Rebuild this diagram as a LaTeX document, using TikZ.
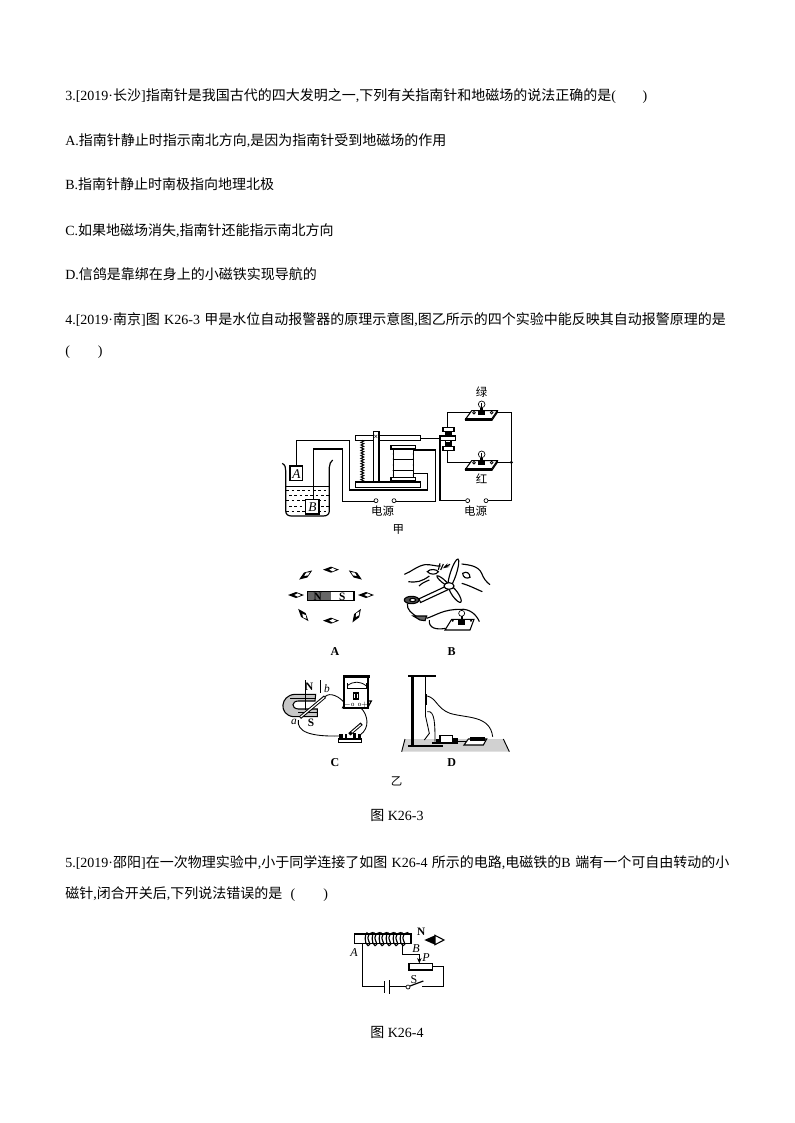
\documentclass[tikz,border=0pt]{standalone}
\usepackage{fontspec}
\setmainfont{Liberation Serif}
\newfontfamily\cjk{Noto Sans CJK SC}
\usetikzlibrary{decorations.pathmorphing,arrows.meta}
\newcommand{\cn}[1]{{\cjk #1}}
\newcommand{\compassneedle}[3]{\begin{scope}[shift={(#1,#2)},rotate=#3]
\fill (-24,0)--(0,-9)--(24,0)--(0,9)--cycle;
\fill[white] (-5,0)--(5,-5)--(15,0)--(5,5)--cycle;
\end{scope}}
\newcommand{\lampunit}[2]{\begin{scope}[shift={(#1,#2)}]
\draw[line width=.8pt,fill=white] (18,-5)--(95,-5)--(78,20)--(0,20)--cycle;
\draw[line width=.8pt,fill=white] (0,20)--(78,20)--(78,25)--(0,25)--cycle;
\draw[line width=.8pt] (78,25)--(95,0)--(95,-5);
\draw[line width=.5pt,fill=white] (48,-24) circle (10);
\draw[line width=.5pt] (48,-28) -- (48,-14);
\fill (38,-6) rectangle (58,8);
\fill (43,-14) rectangle (53,-4);
\draw[line width=.6pt,fill=white] (25,1) circle (4);
\draw[line width=.6pt,fill=white] (78,1) circle (4);
\end{scope}}
\tikzset{
  qtext/.style={anchor=base west,inner sep=0pt,font=\fontsize{10.5}{12}\selectfont},
  wire/.style={line width=.9pt,line join=miter},
  thin wire/.style={line width=.65pt},
  part/.style={line width=.85pt,fill=white},
  figlabel/.style={inner sep=0pt,font=\fontsize{8.6}{10}\selectfont},
  optlabel/.style={inner sep=0pt,font=\bfseries\fontsize{9}{10}\selectfont},
  terminal/.style={circle,draw,fill=white,line width=.5pt,inner sep=0pt,minimum size=3pt},
}
\begin{document}
\begin{tikzpicture}[x=.75pt,y=-.75pt]
\useasboundingbox[fill=white] (0,0) rectangle (794,1123);
% question text
\node[qtext] (q3) at (65,101) {3.[2019·\cn{长沙}]\cn{指南针是我国古代的四大发明之一},\cn{下列有关指南针和地磁场的说法正确的是}(\hspace{1.9em})};
\node[qtext] (qa) at (65,146) {A.\cn{指南针静止时指示南北方向},\cn{是因为指南针受到地磁场的作用}};
\node[qtext] (qb) at (65,190) {B.\cn{指南针静止时南极指向地理北极}};
\node[qtext] (qc) at (65,235) {C.\cn{如果地磁场消失},\cn{指南针还能指示南北方向}};
\node[qtext] (qd) at (65,279) {D.\cn{信鸽是靠绑在身上的小磁铁实现导航的}};
\node[qtext] (q4) at (65,324) {4.[2019·\cn{南京}]\cn{图}\hspace{.32em}K26-3\hspace{.32em}\cn{甲是水位自动报警器的原理示意图},\cn{图乙所示的四个实验中能反映其自动报警原理的是}};
\node[qtext] (q4b) at (65,355) {(\hspace{2em})};
\node[qtext] (q5) at (65,867) {5.[2019·\cn{邵阳}]\cn{在一次物理实验中},\cn{小于同学连接了如图}\hspace{.32em}K26-4\hspace{.32em}\cn{所示的电路},\cn{电磁铁的}B\hspace{.32em}\cn{端有一个可自由转动的小}};
\node[qtext] (q5b) at (65,898) {\cn{磁针},\cn{闭合开关后},\cn{下列说法错误的是}\hspace{.6em}(\hspace{2em})};
\node[qtext,anchor=base] (cap3) at (397,820) {\cn{图} K26-3};
\node[qtext,anchor=base] (cap4) at (397,1037) {\cn{图} K26-4};

% ---------- figure jia
\begin{scope}[shift={(270,380)},x=.25pt,y=-.25pt]
% beaker
\draw[wire] (37,250) .. controls (46,256) and (47,262) .. (47,272) -- (47,392) .. controls (47,404) and (55,408) .. (65,408) -- (160,408) .. controls (172,408) and (178,402) .. (178,392) -- (178,262) .. controls (178,252) and (182,245) .. (188,240);
\draw[wire] (47,320) -- (178,320);
\foreach \y/\o in {330/0,346/8,362/0,378/8,394/0}
  \foreach \x in {52,68,...,168}
    \draw[line width=.5pt] ({\x+\o-3},\y) -- ({\x+\o+5},\y);
% wires
\draw[wire] (79,258) -- (79,181) -- (238,181) -- (238,330) -- (472,330) -- (472,280) -- (432,280);
\draw[wire] (130,358) -- (130,207) -- (218,207) -- (218,365) -- (318,365);
\draw[wire] (372,365) -- (496,365) -- (496,210) -- (432,210);
\draw[wire] (452,175) -- (515,175);
\draw[wire] (510,175) -- (510,362) -- (593,362);
\draw[wire] (648,362) -- (724,362) -- (724,97) -- (660,97);
\draw[wire] (660,247) -- (724,247);
\draw[wire] (600,97) -- (533,97) -- (533,143);
\draw[wire] (600,247) -- (533,247) -- (533,212);
\fill (724,247) circle (5);
% boxes in water
\draw[part] (60,258) rectangle (98,302);
\node[figlabel,font=\itshape\fontsize{10}{10}\selectfont] (la) at (79,281) {A};
\draw[part] (107,358) rectangle (147,402);
\node[figlabel,font=\itshape\fontsize{10}{10}\selectfont] (lb) at (127,381) {B};
% relay
\draw[part] (257,166) rectangle (452,181);
\draw[part] (257,306) rectangle (452,322);
\draw[part] (310,155) rectangle (327,306);
\node[inner sep=0pt,font=\fontsize{6}{6}\selectfont] (star) at (318,173) {\textbf{×}};
\draw[line width=.7pt,decorate,decoration={zigzag,amplitude=1.1pt,segment length=2pt}] (277,181) -- (277,306);
% coil
\draw[part] (370,207) rectangle (430,292);
\draw[part] (363,197) rectangle (437,207);
\draw[part] (363,292) rectangle (437,302);
\foreach \y in {238,272} {\draw[line width=.6pt] (370,\y) -- (430,\y);}
\foreach \y in {222,237,255,272,285} {\fill (370,\y) circle (2.4);\fill (430,\y) circle (2.4);}
% contacts
\draw[part] (519,143) rectangle (552,155);
\draw[part] (519,200) rectangle (552,212);
\draw[part] (527,155) rectangle (543,200);
\draw[part] (510,168) rectangle (557,182);
\fill (529,185) rectangle (541,198);
\fill (529,156) rectangle (541,166);
% lamps
\lampunit{587}{97}
\lampunit{587}{247}
% terminals
\node[terminal] (t1) at (318,362) {};
\node[terminal] (t2) at (372,362) {};
\node[terminal] (t3) at (593,362) {};
\node[terminal] (t4) at (648,362) {};
\node[figlabel] (green) at (635,36) {\cn{绿}};
\node[figlabel] (red) at (635,295) {\cn{红}};
\node[figlabel] (pwr1) at (338,392) {\cn{电源}};
\node[figlabel] (pwr2) at (617,392) {\cn{电源}};
\node[figlabel] (jia) at (385,447) {\cn{甲}};
\end{scope}

% ---------- figure A, B
\begin{scope}[shift={(270,550)},x=.25pt,y=-.25pt]
\fill[black!60] (113,124) rectangle (182,152);
\draw[line width=.9pt] (113,124) rectangle (252,152);
\node[figlabel,font=\bfseries\fontsize{8.5}{9}\selectfont] (mn) at (143,139) {N};
\node[figlabel,font=\bfseries\fontsize{8.5}{9}\selectfont] (ms) at (217,139) {S};
\compassneedle{183}{59}{0}
\compassneedle{107}{75}{35}
\compassneedle{256}{75}{145}
\compassneedle{78}{135}{0}
\compassneedle{288}{135}{0}
\compassneedle{100}{195}{-50}
\compassneedle{260}{197}{58}
\compassneedle{183}{212}{0}
\node[optlabel] (oa) at (195,305) {A};
\node[optlabel] (ob) at (545,305) {B};
% blades and generator
\begin{scope}[line width=.85pt]
\draw[fill=white,rotate around={72:(550,70)}] (550,70) ellipse (45 and 9);
\draw[fill=white,rotate around={-55:(555,132)}] (555,132) ellipse (30 and 9);
\draw[fill=white,rotate around={-40:(518,92)}] (518,92) ellipse (22 and 5);
\draw[fill=white,rotate around={25:(490,133)}] (445,127) rectangle (535,139);
\draw[fill=white] (537,108) ellipse (15 and 10);
\draw[fill=black!70] (425,150) ellipse (22 and 11);
\draw[fill=white] (428,150) ellipse (9 and 5);
% hands
\draw (403,73) .. controls (425,65) and (440,48) .. (465,44) .. controls (480,42) and (500,50) .. (512,48);
\draw[fill=white] (472,65) .. controls (480,55) and (500,58) .. (505,65) .. controls (500,75) and (480,75) .. (472,65) -- cycle;
\draw (415,95) .. controls (440,98) and (455,95) .. (478,78);
\draw (447,108) .. controls (455,100) and (465,95) .. (478,90);
\draw (575,42) .. controls (600,45) and (625,48) .. (635,70) .. controls (640,85) and (650,97) .. (660,104);
\draw[fill=white] (578,70) .. controls (590,62) and (600,70) .. (600,82) .. controls (590,88) and (578,82) .. (578,70) -- cycle;
\draw (575,100) .. controls (595,105) and (620,118) .. (637,125);
\draw (510,40) -- (505,60);
\draw (520,42) -- (512,60);
\draw[-{Stealth[length=5pt,width=3pt]}] (540,43) -- (518,55);
% wires
\draw (412,160) .. controls (410,180) and (425,190) .. (445,203);
\draw (470,205) .. controls (500,195) and (520,178) .. (570,178) .. controls (600,175) and (620,195) .. (628,215);
\draw (478,210) .. controls (475,235) and (500,240) .. (527,235);
\draw[fill=black!60] (430,198) -- (470,198) -- (465,212) -- (450,210) -- cycle;
\end{scope}
\draw[line width=.8pt,fill=white] (545,208)--(612,208)--(600,240)--(525,240)--cycle;
\draw[line width=.5pt,fill=white] (575,190) circle (9);
\fill (565,210) rectangle (585,226);
\fill (572,198) rectangle (578,212);
\fill (548,212) circle (3.5);
\fill (603,212) circle (3.5);
\end{scope}

% ---------- figure C, D
\begin{scope}[shift={(270,665)},x=.25pt,y=-.25pt]
% U magnet
\draw[line width=.8pt,fill=black!22] (137,88) -- (75,88) .. controls (30,90) and (25,150) .. (70,155) -- (142,155) -- (142,132) -- (85,132) .. controls (62,130) and (65,108) .. (85,108) -- (135,108) -- cycle;
\draw[line width=.6pt] (60,100) -- (135,100);
\draw[line width=.6pt] (85,143) -- (142,143);
\draw[line width=.65pt] (105,45) -- (105,135);
\draw[line width=.65pt] (152,45) -- (152,85);
\node[figlabel,font=\bfseries\fontsize{8.5}{9}\selectfont] (cn1) at (118,66) {N};
\node[figlabel,font=\bfseries\fontsize{8.5}{9}\selectfont] (cs1) at (123,172) {S};
\node[figlabel,font=\itshape\fontsize{8.5}{9}\selectfont] (cb) at (171,71) {b};
\node[figlabel,font=\itshape\fontsize{8.5}{9}\selectfont] (ca) at (72,170) {a};
\draw[line width=2.4pt] (90,158) -- (165,95);
\draw[line width=.9pt,white] (92,156) -- (163,97);
% wires
\draw[thin wire] (165,95) .. controls (180,80) and (210,95) .. (224,115);
\draw[thin wire] (85,165) .. controls (80,200) and (120,215) .. (208,213);
\draw[thin wire] (272,128) .. controls (295,150) and (300,190) .. (270,210);
% meter
\draw[line width=.9pt,fill=white] (218,128) -- (230,108) -- (304,108) -- (292,130) -- cycle;
\draw[line width=.9pt,fill=white] (222,36) rectangle (295,128);
\fill (218,31) rectangle (300,38);
\fill (218,38) rectangle (222,130);
\fill (292,38) rectangle (297,130);
\fill (218,127) rectangle (296,131);
\draw[line width=.6pt] (232,62) .. controls (250,48) and (270,48) .. (288,62);
\draw[line width=.5pt] (232,54) -- (232,70) -- (288,70) -- (288,54);
\fill (248,82) rectangle (268,105);
\fill[white] (252,87) rectangle (256,100);
\fill[white] (260,87) rectangle (264,100);
\node[inner sep=0pt,font=\fontsize{5}{5}\selectfont] (mt) at (258,120) {$-$o\ \ o$+$};
% switch
\draw[line width=.8pt,fill=white] (205,222) rectangle (275,232);
\fill (208,208) rectangle (218,222);
\fill (225,206) rectangle (232,222);
\fill (250,204) rectangle (258,222);
\fill (264,208) rectangle (272,222);
\draw[line width=2.4pt] (238,208) -- (275,176);
\draw[line width=.9pt,white] (245,202) -- (272,179);
\node[optlabel] (oc) at (195,292) {C};
\node[optlabel] (od) at (545,292) {D};
\node[figlabel] (yi) at (380,348) {\cn{乙}};
% D
\fill[black!18] (405,222) -- (700,222) -- (718,260) -- (395,260) -- cycle;
\draw[line width=.7pt] (405,222) -- (395,260);
\draw[line width=.7pt] (700,222) -- (718,260);
\fill (423,30) rectangle (431,243);
\fill (415,29) rectangle (497,35);
\fill (413,240) rectangle (518,246);
\draw[thin wire] (467,35) -- (467,88);
\draw[line width=1.7pt] (467,88) -- (467,120);
\draw[line width=1pt] (467,120) -- (467,155);
\draw[thin wire] (467,155) -- (478,205) -- (463,225);
\draw[thin wire] (472,93) .. controls (500,100) and (500,130) .. (540,145) .. controls (590,160) and (660,150) .. (668,215);
\draw[thin wire] (472,140) .. controls (495,135) and (495,180) .. (495,230);
\draw[line width=.8pt,fill=white] (510,212) rectangle (548,232);
\fill (485,230) rectangle (565,237);
\fill (498,222) rectangle (510,232);
\fill (548,220) rectangle (565,232);
\draw[line width=.8pt,fill=white] (595,222)--(650,222)--(640,240)--(582,240)--cycle;
\fill (600,215) rectangle (645,228);
\draw[thin wire] (565,228) -- (590,228);
\end{scope}

% ---------- figure K26-4
\begin{scope}[shift={(340,920)},x=.25pt,y=-.25pt]
\draw[line width=.9pt,fill=white] (43,42) rectangle (213,70);
\foreach \x in {82,103,124,145,166,187}
  \draw[line width=.85pt] (\x,37) .. controls (\x-8,38) and (\x-10,72) .. (\x+2,77) .. controls (\x+8,78) and (\x+9,72) .. (\x+3,60) .. controls (\x-1,52) and (\x+4,38) .. (\x+18,37);
\draw[wire] (68,70) -- (68,200) -- (133,200);
\draw[wire] (133,183) -- (133,218);
\draw[wire] (149,180) -- (149,221);
\draw[wire] (149,200) -- (198,200);
\draw[wire] (210,198) -- (250,183);
\draw[wire] (247,200) -- (310,200) -- (310,140) -- (277,140);
\draw[wire] (188,70) -- (188,103) -- (238,103);
\draw[wire,-{Stealth[length=4pt,width=3.4pt]}] (238,103) -- (238,130);
\draw[line width=1pt,fill=white] (207,130) rectangle (277,150);
\node[terminal] (sw) at (204,201) {};
\node[figlabel,font=\itshape\fontsize{9}{9}\selectfont] (pa) at (42,97) {A};
\node[figlabel,font=\itshape\fontsize{9}{9}\selectfont] (pb) at (228,85) {B};
\node[figlabel,font=\itshape\fontsize{9}{9}\selectfont] (pp) at (258,112) {P};
\node[figlabel,font=\fontsize{9}{9}\selectfont] (ps) at (222,178) {S};
\node[figlabel,font=\bfseries\fontsize{8.5}{9}\selectfont] (pn) at (244,36) {N};
\fill (253,60) -- (285,46) -- (285,74) -- cycle;
\draw[line width=.8pt,fill=white] (285,46) -- (312,60) -- (285,74) -- cycle;
\end{scope}
\end{tikzpicture}
\end{document}
